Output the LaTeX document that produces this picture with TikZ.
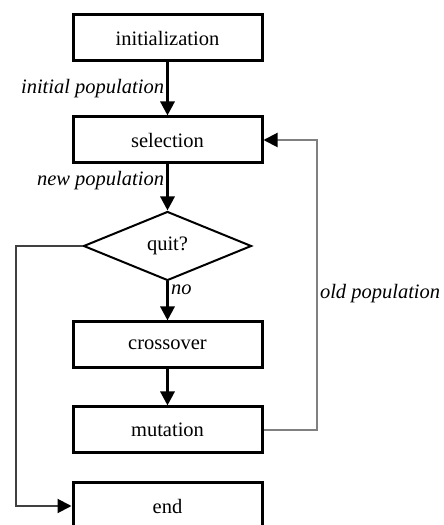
\documentclass[tikz,border=0pt]{standalone}
\usepackage{fontspec}
\setmainfont{Liberation Serif}
\usetikzlibrary{shapes.geometric,arrows.meta}

\tikzset{
  stage/.style={draw,line width=3pt,minimum width=189pt,minimum height=46pt,
    inner sep=0pt,font=\fontsize{20.5}{23}\selectfont},
  test/.style={diamond,draw,line width=2pt,minimum width=168pt,minimum height=69pt,
    inner sep=0pt,font=\fontsize{20.5}{23}\selectfont},
  flow/.style={line width=3pt,-{Triangle[length=14pt,width=14pt]}},
  back/.style={line width=2pt,-{Triangle[length=14pt,width=14pt,black]}},
  lbl/.style={font=\fontsize{20.5}{23}\selectfont\itshape,inner sep=2pt}
}

\begin{document}
\begin{tikzpicture}[x=1pt,y=1pt]
  \useasboundingbox (0,0) rectangle (444,525);
  \clip (0,0) rectangle (444,525);
  \node[stage] (init) at (167.5,487) {initialization};
  \node[stage] (sel)  at (167.5,385) {selection};
  \node[test]  (quit) at (167.5,279) {quit?};
  \node[stage] (cross) at (167.5,180) {crossover};
  \node[stage] (mut)  at (167.5,95)  {mutation};
  \node[stage] (end)  at (167.5,19)  {end};
  \coordinate (exit) at (16,279);
  \coordinate (loop) at (317,95);
  \draw[flow] (init) -- node[pos=0.5,left,lbl] (initpop) {initial population} (sel);
  \draw[flow] (sel) -- node[pos=0.35,left,lbl] (newpop) {new population} (quit);
  \draw[flow] (quit) -- node[pos=0.2,right,lbl] (no) {no} (cross);
  \draw[flow] (cross) -- (mut);
  \draw[back,black!75] (quit.west) -- (exit) |- (end.west);
  \draw[back,black!50] (mut.east) -- (loop) |- node[pos=0.235,right,lbl,black] (oldpop) {old population} (sel.east);
\end{tikzpicture}
\end{document}
